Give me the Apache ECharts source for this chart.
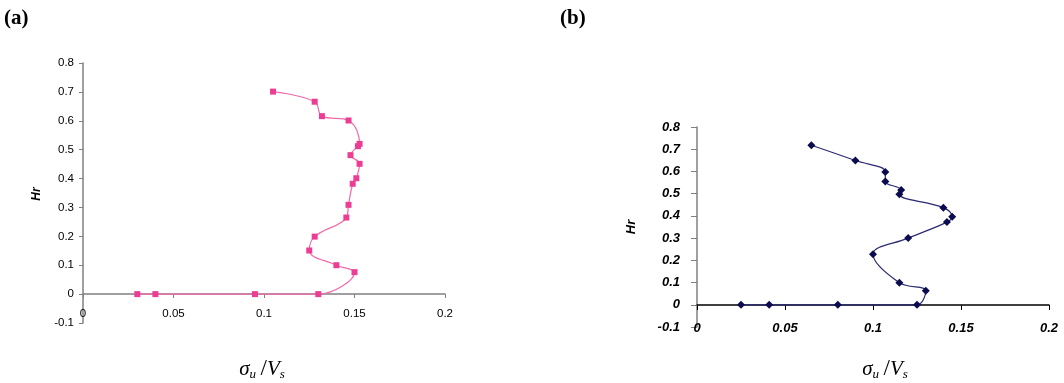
<!DOCTYPE html>
<html>
<head>
<meta charset="utf-8">
<script src="https://cdn.jsdelivr.net/npm/echarts@6/dist/echarts.min.js"></script>
<style>
html,body{margin:0;padding:0;background:#fff;}
#chart{width:1064px;height:383px;}
</style>
</head>
<body>
<div id="chart"></div>
<script>
// Panel (a) data: sigma_u/V_s and Hr
const sigmaA = [0.030, 0.040, 0.095, 0.130, 0.150, 0.140, 0.125, 0.128, 0.1455, 0.1467, 0.149, 0.151, 0.1528, 0.1478, 0.1519, 0.1528, 0.1467, 0.132, 0.128, 0.105];
const hrA    = [0.000, 0.000, 0.000, 0.000, 0.076, 0.100, 0.151, 0.199, 0.265, 0.309, 0.382, 0.401, 0.451, 0.481, 0.512, 0.520, 0.601, 0.616, 0.666, 0.701];
// Panel (b) data
const sigmaB = [0.025, 0.041, 0.080, 0.125, 0.130, 0.115, 0.100, 0.120, 0.142, 0.145, 0.140, 0.115, 0.116, 0.107, 0.107, 0.090, 0.065];
const hrB    = [0.000, 0.000, 0.000, 0.000, 0.063, 0.099, 0.227, 0.300, 0.372, 0.396, 0.437, 0.497, 0.517, 0.555, 0.598, 0.649, 0.718];
// Axis settings
const xMin = 0, xMax = 0.2, xStep = 0.05;
const yMin = -0.1, yMax = 0.8, yStep = 0.1;

const chart = echarts.init(document.getElementById('chart'), null, {renderer: 'canvas'});
const pairs = (xs, ys) => xs.map((x, i) => [x, ys[i]]);

const sans = 'Liberation Sans, Arial, sans-serif';
const serif = 'Liberation Serif, Times New Roman, serif';

function xTitle(cx, cy) {
  return {
    type: 'text', x: cx, y: cy,
    style: {
      text: '{a|σ}{b|u}{c|\u2009/}{a|V}{b|s}',
      align: 'center', verticalAlign: 'middle',
      rich: {
        a: {fontFamily: serif, fontStyle: 'italic', fontSize: 21, lineHeight: 24, fill: '#000'},
        b: {fontFamily: serif, fontStyle: 'italic', fontSize: 13, lineHeight: 12, verticalAlign: 'bottom', fill: '#000'},
        c: {fontFamily: serif, fontSize: 23, lineHeight: 24, fill: '#000'}
      }
    }
  };
}

const option = {
  animation: false,
  backgroundColor: '#fff',
  grid: [
    {left: 83, top: 63, width: 362, height: 260},
    {left: 697, top: 127, width: 352, height: 200}
  ],
  xAxis: [
    {
      type: 'value', gridIndex: 0, min: xMin, max: xMax, interval: xStep,
      position: 'bottom', offset: -29,
      axisLine: {onZero: false, lineStyle: {color: '#808080', width: 1.5}},
      axisTick: {show: true, length: 4, lineStyle: {color: '#808080'}},
      splitLine: {show: false},
      axisLabel: {fontFamily: sans, fontSize: 11.5, color: '#000', margin: 14, showMinLabel: true, showMaxLabel: true}
    },
    {
      type: 'value', gridIndex: 1, min: xMin, max: xMax, interval: xStep,
      position: 'bottom', offset: -22,
      axisLine: {onZero: false, lineStyle: {color: '#000', width: 1.5}},
      axisTick: {show: true, length: 5, lineStyle: {color: '#000'}},
      splitLine: {show: false},
      axisLabel: {fontFamily: sans, fontSize: 13, fontWeight: 'bold', fontStyle: 'italic', color: '#000', margin: 17, showMinLabel: true, showMaxLabel: true}
    }
  ],
  yAxis: [
    {
      type: 'value', gridIndex: 0, min: yMin, max: yMax, interval: yStep,
      axisLine: {show: true, onZero: false, lineStyle: {color: '#808080', width: 1.5}},
      axisTick: {show: true, length: 4, lineStyle: {color: '#808080'}},
      splitLine: {show: false},
      axisLabel: {fontFamily: sans, fontSize: 11.5, color: '#000', margin: 9, showMinLabel: true, showMaxLabel: true}
    },
    {
      type: 'value', gridIndex: 1, min: yMin, max: yMax, interval: yStep,
      axisLine: {show: true, onZero: false, lineStyle: {color: '#808080', width: 1.5}},
      axisTick: {show: true, length: 6, lineStyle: {color: '#808080'}},
      splitLine: {show: false},
      axisLabel: {fontFamily: sans, fontSize: 13, fontWeight: 'bold', fontStyle: 'italic', color: '#000', margin: 17, showMinLabel: true, showMaxLabel: true}
    }
  ],
  series: [
    {
      type: 'line', xAxisIndex: 0, yAxisIndex: 0,
      data: pairs(sigmaA, hrA),
      smooth: 0.4,
      symbol: 'rect', symbolSize: 6,
      itemStyle: {color: '#EC3D95'},
      lineStyle: {color: '#F06AAA', width: 1.2}
    },
    {
      type: 'line', xAxisIndex: 1, yAxisIndex: 1,
      data: pairs(sigmaB, hrB),
      smooth: 0.4,
      symbol: 'diamond', symbolSize: 8,
      itemStyle: {color: '#0B0B4F'},
      lineStyle: {color: '#2B2B73', width: 1.2}
    }
  ],
  graphic: [
    {type: 'text', x: 4, y: 8, style: {text: '(a)', fontFamily: serif, fontWeight: 'bold', fontSize: 21, fill: '#000'}},
    {type: 'text', x: 560, y: 8, style: {text: '(b)', fontFamily: serif, fontWeight: 'bold', fontSize: 21, fill: '#000'}},
    {type: 'text', x: 37, y: 194, rotation: Math.PI / 2,
     style: {text: 'Hr', fontFamily: sans, fontWeight: 'bold', fontStyle: 'italic', fontSize: 12, fill: '#000', align: 'center', verticalAlign: 'middle'}},
    {type: 'text', x: 631, y: 227, rotation: Math.PI / 2,
     style: {text: 'Hr', fontFamily: sans, fontWeight: 'bold', fontStyle: 'italic', fontSize: 13, fill: '#000', align: 'center', verticalAlign: 'middle'}},
    xTitle(262, 369),
    xTitle(885, 369)
  ]
};
chart.setOption(option);
</script>
</body>
</html>
